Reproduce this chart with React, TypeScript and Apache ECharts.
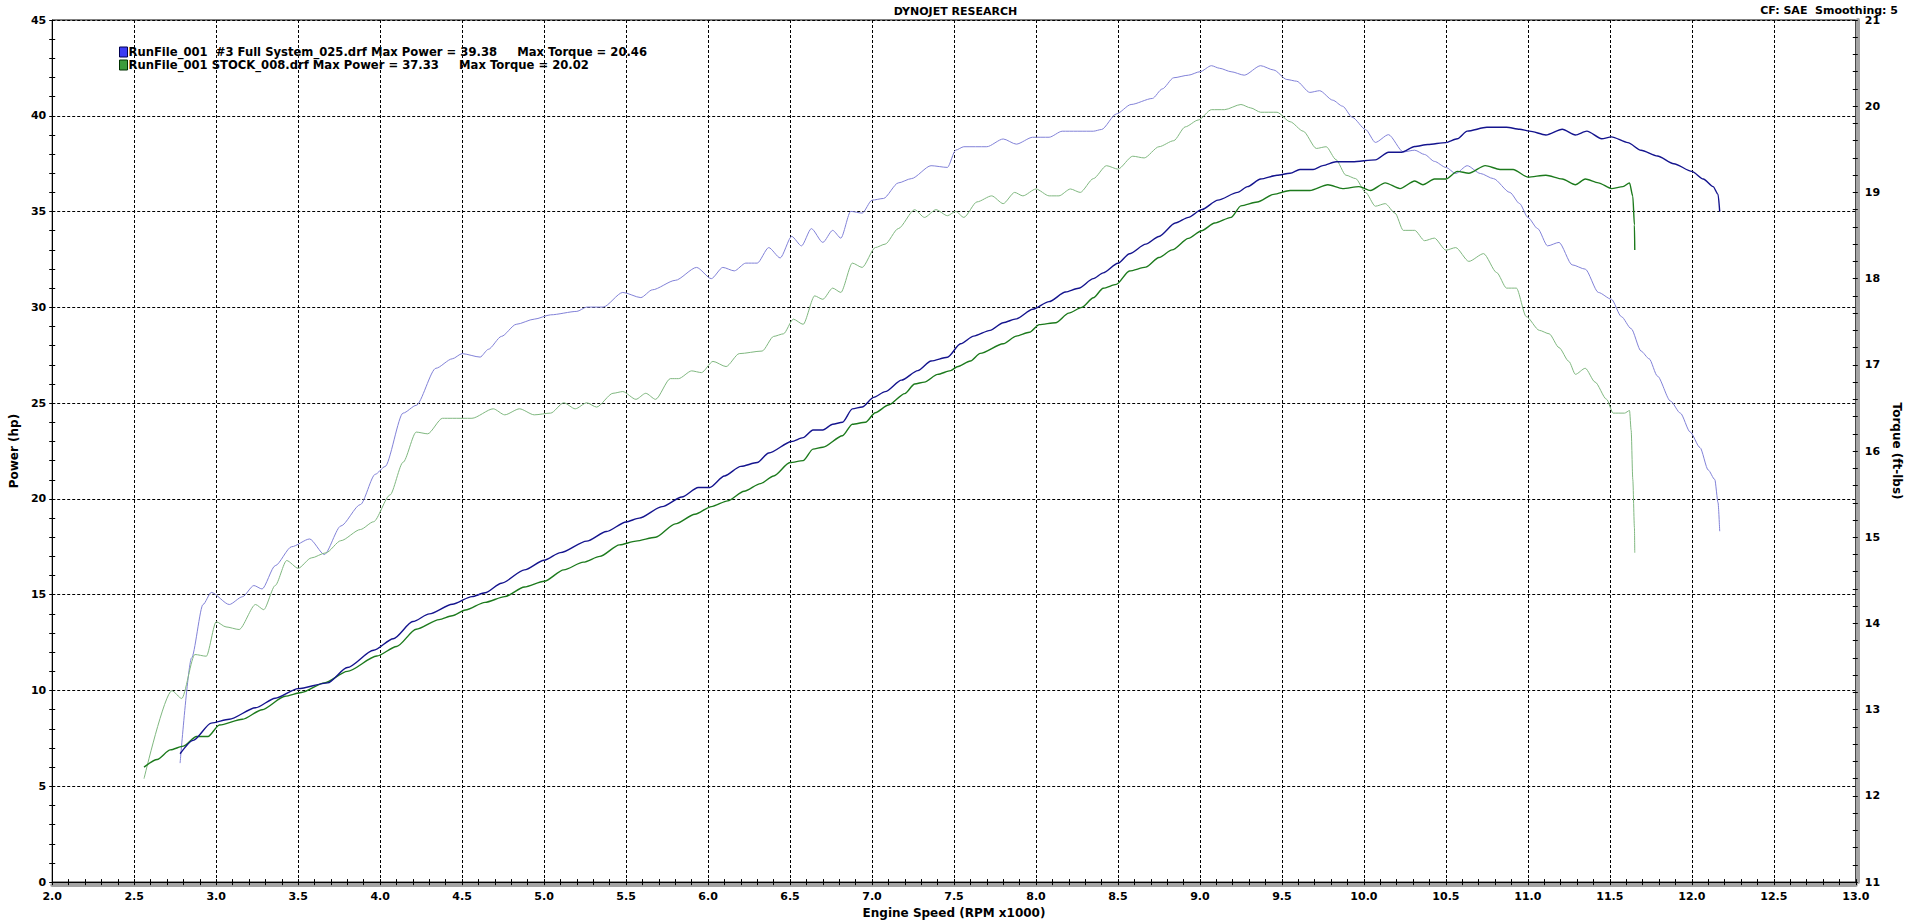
import React, { useEffect, useRef } from "react";
import * as echarts from "echarts";

const FONT = "Tahoma, 'DejaVu Sans', Verdana, sans-serif";

const chartTitle = "DYNOJET RESEARCH";
const chartNote = "CF: SAE  Smoothing: 5";
const xAxisName = "Engine Speed (RPM x1000)";
const powerAxisName = "Power (hp)";
const torqueAxisName = "Torque (ft-lbs)";

const fullRunName = "RunFile_001  #3 Full System_025.drf Max Power = 39.38     Max Torque = 20.46";
const stockRunName = "RunFile_001 STOCK_008.drf Max Power = 37.33     Max Torque = 20.02";

// [rpm x1000, hp]
const fullPower: [number, number][] = [
  [2.78, 6.7], [2.86, 7.4], [2.97, 8.3], [3.08, 8.5], [3.24, 9.1], [3.36, 9.6], [3.5, 10.1], [3.68, 10.4], [3.8, 11.2], [3.96, 12.1],
  [4.08, 12.7], [4.2, 13.6], [4.3, 14.0], [4.44, 14.5], [4.56, 14.9], [4.64, 15.1], [4.74, 15.6], [4.88, 16.3], [5.0, 16.8], [5.1, 17.2],
  [5.26, 17.8], [5.38, 18.3], [5.5, 18.8], [5.58, 19.0], [5.72, 19.6], [5.84, 20.1], [5.94, 20.6], [6.01, 20.6], [6.1, 21.2], [6.2, 21.7],
  [6.3, 21.9], [6.37, 22.4], [6.51, 23.0], [6.58, 23.2], [6.64, 23.6], [6.7, 23.6], [6.76, 23.9], [6.82, 24.0], [6.88, 24.7], [6.94, 24.8],
  [7.01, 25.3], [7.08, 25.6], [7.18, 26.2], [7.28, 26.7], [7.36, 27.2], [7.46, 27.4], [7.54, 28.1], [7.62, 28.5], [7.72, 28.8], [7.8, 29.2],
  [7.88, 29.4], [7.98, 29.9], [8.08, 30.3], [8.18, 30.8], [8.26, 31.0], [8.35, 31.5], [8.41, 31.8], [8.5, 32.3], [8.57, 32.8], [8.67, 33.3],
  [8.75, 33.7], [8.85, 34.4], [8.93, 34.7], [9.01, 35.1], [9.11, 35.6], [9.23, 36.0], [9.29, 36.3], [9.37, 36.7], [9.47, 36.9], [9.55, 37.0],
  [9.61, 37.2], [9.69, 37.2], [9.75, 37.4], [9.83, 37.6], [9.93, 37.6], [10.07, 37.7], [10.15, 38.1], [10.23, 38.1], [10.31, 38.4], [10.39, 38.5],
  [10.5, 38.6], [10.57, 38.8], [10.63, 39.2], [10.75, 39.4], [10.87, 39.4], [10.95, 39.3], [11.01, 39.2], [11.11, 39.0], [11.21, 39.3], [11.29, 39.0],
  [11.36, 39.2], [11.45, 38.8], [11.51, 38.9], [11.61, 38.6], [11.69, 38.2], [11.79, 37.9], [11.89, 37.5], [12.0, 37.1], [12.07, 36.7], [12.13, 36.3],
  [12.16, 35.9], [12.17, 35.0],
];

// [rpm x1000, ft-lbs]
const fullTorque: [number, number][] = [
  [2.78, 12.38], [2.85, 13.6], [2.92, 14.22], [2.97, 14.36], [3.08, 14.22], [3.16, 14.31], [3.23, 14.44], [3.28, 14.4], [3.36, 14.67], [3.46, 14.89],
  [3.57, 14.98], [3.66, 14.8], [3.76, 15.13], [3.88, 15.38], [3.97, 15.73], [4.03, 15.82], [4.14, 16.44], [4.22, 16.53], [4.34, 16.96], [4.44, 17.07],
  [4.5, 17.13], [4.61, 17.09], [4.66, 17.18], [4.74, 17.33], [4.83, 17.47], [4.94, 17.53], [5.04, 17.58], [5.2, 17.62], [5.26, 17.67], [5.36, 17.67],
  [5.48, 17.84], [5.59, 17.78], [5.66, 17.87], [5.8, 17.98], [5.93, 18.13], [6.02, 18.0], [6.09, 18.13], [6.16, 18.09], [6.23, 18.18], [6.3, 18.18],
  [6.37, 18.36], [6.44, 18.24], [6.51, 18.49], [6.57, 18.38], [6.63, 18.58], [6.7, 18.42], [6.76, 18.56], [6.81, 18.47], [6.87, 18.78], [6.94, 18.76],
  [7.0, 18.91], [7.07, 18.93], [7.16, 19.11], [7.24, 19.16], [7.36, 19.31], [7.46, 19.29], [7.51, 19.49], [7.56, 19.53], [7.7, 19.53], [7.8, 19.62],
  [7.88, 19.56], [7.98, 19.64], [8.08, 19.64], [8.16, 19.71], [8.35, 19.71], [8.4, 19.73], [8.49, 19.91], [8.58, 20.02], [8.71, 20.09], [8.77, 20.2],
  [8.84, 20.33], [8.93, 20.36], [9.0, 20.4], [9.07, 20.47], [9.12, 20.44], [9.19, 20.4], [9.27, 20.36], [9.37, 20.47], [9.45, 20.42], [9.53, 20.31],
  [9.59, 20.29], [9.67, 20.16], [9.73, 20.18], [9.81, 20.07], [9.87, 20.0], [9.93, 19.87], [10.01, 19.73], [10.07, 19.58], [10.15, 19.67], [10.24, 19.47],
  [10.31, 19.49], [10.37, 19.44], [10.43, 19.36], [10.5, 19.29], [10.56, 19.22], [10.63, 19.31], [10.71, 19.22], [10.79, 19.16], [10.89, 19.0], [10.95, 18.87],
  [11.0, 18.71], [11.06, 18.58], [11.12, 18.38], [11.19, 18.42], [11.27, 18.16], [11.35, 18.11], [11.43, 17.84], [11.51, 17.76], [11.57, 17.56], [11.63, 17.42],
  [11.69, 17.16], [11.74, 17.07], [11.79, 16.87], [11.87, 16.58], [11.93, 16.44], [11.99, 16.22], [12.05, 16.04], [12.1, 15.78], [12.14, 15.67], [12.16, 15.4],
  [12.17, 15.07],
];

// [rpm x1000, hp]
const stockPower: [number, number][] = [
  [2.56, 6.0], [2.64, 6.4], [2.72, 6.9], [2.8, 7.1], [2.88, 7.6], [2.95, 7.6], [3.02, 8.2], [3.16, 8.5], [3.28, 9.0], [3.42, 9.7],
  [3.52, 9.9], [3.66, 10.4], [3.8, 11.0], [3.98, 11.8], [4.1, 12.3], [4.22, 13.2], [4.36, 13.7], [4.44, 13.9], [4.52, 14.2], [4.64, 14.6],
  [4.76, 14.9], [4.88, 15.4], [5.0, 15.7], [5.12, 16.3], [5.24, 16.7], [5.34, 17.0], [5.46, 17.6], [5.56, 17.8], [5.68, 18.0], [5.8, 18.7],
  [5.92, 19.2], [6.02, 19.6], [6.12, 19.9], [6.22, 20.4], [6.32, 20.8], [6.4, 21.2], [6.5, 21.9], [6.58, 22.0], [6.64, 22.6], [6.7, 22.7],
  [6.82, 23.3], [6.88, 23.9], [6.96, 24.0], [7.02, 24.5], [7.1, 24.9], [7.2, 25.5], [7.26, 26.0], [7.32, 26.1], [7.4, 26.5], [7.48, 26.7],
  [7.52, 26.9], [7.6, 27.2], [7.66, 27.6], [7.8, 28.1], [7.88, 28.5], [7.96, 28.7], [8.02, 29.1], [8.12, 29.2], [8.2, 29.7], [8.28, 30.0],
  [8.35, 30.5], [8.41, 31.0], [8.49, 31.2], [8.57, 31.9], [8.67, 32.1], [8.75, 32.6], [8.83, 33.0], [8.93, 33.6], [9.01, 34.0], [9.09, 34.4],
  [9.19, 34.7], [9.25, 35.3], [9.35, 35.5], [9.45, 35.9], [9.55, 36.1], [9.67, 36.1], [9.78, 36.4], [9.87, 36.2], [9.97, 36.3], [10.04, 36.1],
  [10.13, 36.5], [10.22, 36.2], [10.31, 36.6], [10.36, 36.4], [10.43, 36.7], [10.5, 36.7], [10.57, 37.1], [10.64, 37.0], [10.74, 37.4], [10.83, 37.2],
  [10.91, 37.2], [11.0, 36.8], [11.11, 36.9], [11.21, 36.7], [11.29, 36.4], [11.35, 36.7], [11.43, 36.5], [11.51, 36.2], [11.58, 36.3], [11.62, 36.5],
  [11.64, 35.8], [11.65, 34.3], [11.652, 33.0],
];

// [rpm x1000, ft-lbs]
const stockTorque: [number, number][] = [
  [2.56, 12.2], [2.73, 13.22], [2.79, 13.13], [2.87, 13.64], [2.94, 13.62], [3.0, 14.02], [3.06, 13.96], [3.14, 13.93], [3.24, 14.22], [3.29, 14.16],
  [3.36, 14.44], [3.43, 14.73], [3.5, 14.64], [3.58, 14.76], [3.67, 14.82], [3.76, 14.96], [3.88, 15.09], [3.96, 15.18], [4.06, 15.49], [4.14, 15.87],
  [4.22, 16.22], [4.29, 16.2], [4.38, 16.38], [4.44, 16.38], [4.56, 16.38], [4.69, 16.49], [4.76, 16.42], [4.85, 16.49], [4.94, 16.42], [5.04, 16.44],
  [5.12, 16.56], [5.19, 16.49], [5.26, 16.56], [5.32, 16.51], [5.42, 16.67], [5.48, 16.69], [5.56, 16.6], [5.62, 16.67], [5.68, 16.6], [5.77, 16.84],
  [5.82, 16.84], [5.9, 16.93], [5.96, 16.91], [6.03, 17.04], [6.11, 16.98], [6.19, 17.13], [6.33, 17.16], [6.4, 17.33], [6.46, 17.36], [6.52, 17.53],
  [6.58, 17.47], [6.65, 17.8], [6.7, 17.76], [6.76, 17.89], [6.81, 17.84], [6.88, 18.18], [6.94, 18.13], [7.02, 18.36], [7.08, 18.4], [7.16, 18.58],
  [7.26, 18.8], [7.32, 18.71], [7.39, 18.8], [7.46, 18.73], [7.51, 18.78], [7.56, 18.71], [7.64, 18.89], [7.73, 18.96], [7.8, 18.87], [7.87, 19.0],
  [7.92, 18.96], [8.0, 19.04], [8.08, 18.96], [8.14, 18.96], [8.21, 19.04], [8.27, 19.0], [8.35, 19.16], [8.43, 19.31], [8.5, 19.27], [8.59, 19.42],
  [8.66, 19.4], [8.75, 19.53], [8.84, 19.6], [8.91, 19.76], [8.99, 19.84], [9.07, 19.96], [9.15, 19.96], [9.25, 20.02], [9.31, 19.98], [9.37, 19.93],
  [9.47, 19.93], [9.55, 19.82], [9.63, 19.71], [9.71, 19.51], [9.77, 19.53], [9.83, 19.38], [9.89, 19.2], [9.95, 19.16], [10.01, 19.0], [10.07, 18.84],
  [10.13, 18.87], [10.19, 18.76], [10.24, 18.56], [10.31, 18.56], [10.37, 18.44], [10.43, 18.47], [10.5, 18.33], [10.56, 18.36], [10.64, 18.2], [10.73, 18.29],
  [10.81, 18.07], [10.87, 17.89], [10.93, 17.89], [10.99, 17.56], [11.07, 17.4], [11.13, 17.36], [11.19, 17.2], [11.25, 17.04], [11.29, 16.89], [11.35, 16.96],
  [11.41, 16.8], [11.48, 16.6], [11.52, 16.44], [11.59, 16.44], [11.62, 16.47], [11.63, 16.24], [11.64, 15.67], [11.65, 15.11], [11.652, 14.82],
];

const rpmMin = 2;
const rpmMax = 13;
const rpmStep = 0.5;
const hpMin = 0;
const hpMax = 45;
const hpStep = 5;
const tqMin = 11;
const tqMax = 21;
const tqStep = 1;

const labelStyle = { color: "#000", fontWeight: "bold" as const, fontSize: 11, fontFamily: FONT };
const nameStyle = { color: "#000", fontWeight: "bold" as const, fontSize: 12, fontFamily: FONT };

export default function App() {
  const ref = useRef<HTMLDivElement>(null);

  useEffect(() => {
    if (!ref.current) return;
    const chart = echarts.init(ref.current, undefined, { renderer: "svg" });

    const plainX = {
      type: "value" as const,
      min: rpmMin,
      max: rpmMax,
      interval: rpmStep,
      position: "bottom" as const,
      axisLabel: { show: false },
      splitLine: { show: false },
    };
    const plainY = {
      type: "value" as const,
      min: hpMin,
      max: hpMax,
      interval: hpStep,
      position: "left" as const,
      axisLabel: { show: false },
      splitLine: { show: false },
    };

    const lineCommon = {
      type: "line" as const,
      xAxisIndex: 0,
      showSymbol: false,
      smooth: 0.25,
      smoothMonotone: "x" as const,
    };

    chart.setOption({
      animation: false,
      backgroundColor: "#fff",
      title: [
        { text: chartTitle, left: "center", top: 1, textStyle: { ...labelStyle, fontSize: 11 } },
        { text: chartNote, right: 8, top: 0, textStyle: { ...labelStyle, fontSize: 11 } },
      ],
      legend: {
        orient: "vertical",
        left: 114,
        top: 41,
        itemWidth: 8,
        itemHeight: 10,
        itemGap: 1,
        icon: "rect",
        textStyle: { ...labelStyle, fontSize: 11.6, padding: [0, 0, 0, -4] },
        data: [
          { name: fullRunName, itemStyle: { color: "#3c3cf4", borderColor: "#000050", borderWidth: 1 } },
          { name: stockRunName, itemStyle: { color: "#3c9c3c", borderColor: "#003000", borderWidth: 1 } },
        ],
      },
      grid: {
        left: 40,
        right: 40,
        top: 20,
        bottom: 32,
        show: true,
        borderColor: "#000",
        borderWidth: 1,
        backgroundColor: "transparent",
      },
      xAxis: [
        {
          type: "value",
          min: rpmMin,
          max: rpmMax,
          interval: rpmStep,
          position: "bottom",
          z: 3,
          axisLine: { show: true, onZero: false, lineStyle: { color: "#000", width: 1 } },
          axisTick: { show: true, inside: false, length: 3, lineStyle: { color: "#000" } },
          minorTick: { show: true, splitNumber: 5, length: 3, lineStyle: { color: "#000" } },
          axisLabel: { ...labelStyle, margin: 9, formatter: (v: number) => v.toFixed(1) },
          splitLine: { show: true, lineStyle: { color: "#000", type: [3, 2], width: 1 } },
          name: xAxisName,
          nameLocation: "middle",
          nameGap: 21,
          nameTextStyle: nameStyle,
        },
        {
          ...plainX,
          z: 3,
          axisLine: { show: false },
          axisTick: { show: true, inside: true, length: 3, lineStyle: { color: "#000" } },
          minorTick: { show: true, splitNumber: 5, length: 3, lineStyle: { color: "#000" } },
        },
        {
          ...plainX,
          offset: 3,
          z: 1,
          axisLine: { show: true, onZero: false, lineStyle: { color: "#a4a4a4", width: 4 } },
          axisTick: { show: false },
        },
      ],
      yAxis: [
        {
          type: "value",
          min: hpMin,
          max: hpMax,
          interval: hpStep,
          position: "left",
          z: 3,
          axisLine: { show: true, onZero: false, lineStyle: { color: "#000", width: 1 } },
          axisTick: { show: true, inside: false, length: 3, lineStyle: { color: "#000" } },
          minorTick: { show: true, splitNumber: 5, length: 3, lineStyle: { color: "#000" } },
          axisLabel: { ...labelStyle, margin: 6 },
          splitLine: { show: true, lineStyle: { color: "#000", type: [3, 2], width: 1 } },
          name: powerAxisName,
          nameLocation: "middle",
          nameRotate: 90,
          nameGap: 27,
          nameTextStyle: nameStyle,
        },
        {
          type: "value",
          min: tqMin,
          max: tqMax,
          interval: tqStep,
          position: "right",
          offset: 2,
          z: 3,
          axisLine: { show: true, onZero: false, lineStyle: { color: "#a4a4a4", width: 4 } },
          axisTick: { show: true, inside: true, length: 5, lineStyle: { color: "#000" } },
          minorTick: { show: true, splitNumber: 5, length: 5, lineStyle: { color: "#000" } },
          axisLabel: { ...labelStyle, margin: 7 },
          splitLine: { show: false },
          name: torqueAxisName,
          nameLocation: "middle",
          nameRotate: -90,
          nameGap: 25,
          nameTextStyle: nameStyle,
        },
        {
          ...plainY,
          z: 3,
          axisLine: { show: false },
          axisTick: { show: true, inside: true, length: 3, lineStyle: { color: "#000" } },
          minorTick: { show: true, splitNumber: 5, length: 3, lineStyle: { color: "#000" } },
        },
      ],
      series: [
        {
          ...lineCommon,
          name: "Full System torque",
          yAxisIndex: 1,
          data: fullTorque,
          lineStyle: { color: "#8282d8", width: 1 },
          itemStyle: { color: "#8282d8" },
          z: 4,
        },
        {
          ...lineCommon,
          name: "Stock torque",
          yAxisIndex: 1,
          data: stockTorque,
          lineStyle: { color: "#80b880", width: 1 },
          itemStyle: { color: "#80b880" },
          z: 4,
        },
        {
          ...lineCommon,
          name: stockRunName,
          yAxisIndex: 0,
          data: stockPower,
          lineStyle: { color: "#1c7a1c", width: 1.4 },
          itemStyle: { color: "#1c7a1c" },
          z: 5,
        },
        {
          ...lineCommon,
          name: fullRunName,
          yAxisIndex: 0,
          data: fullPower,
          lineStyle: { color: "#14148e", width: 1.4 },
          itemStyle: { color: "#14148e" },
          z: 5,
        },
      ],
    });

    return () => chart.dispose();
  }, []);

  return (
    <div
      ref={ref}
      style={{ position: "fixed", left: 0, top: 0, width: "1911px", height: "924px", background: "#fff" }}
    />
  );
}
